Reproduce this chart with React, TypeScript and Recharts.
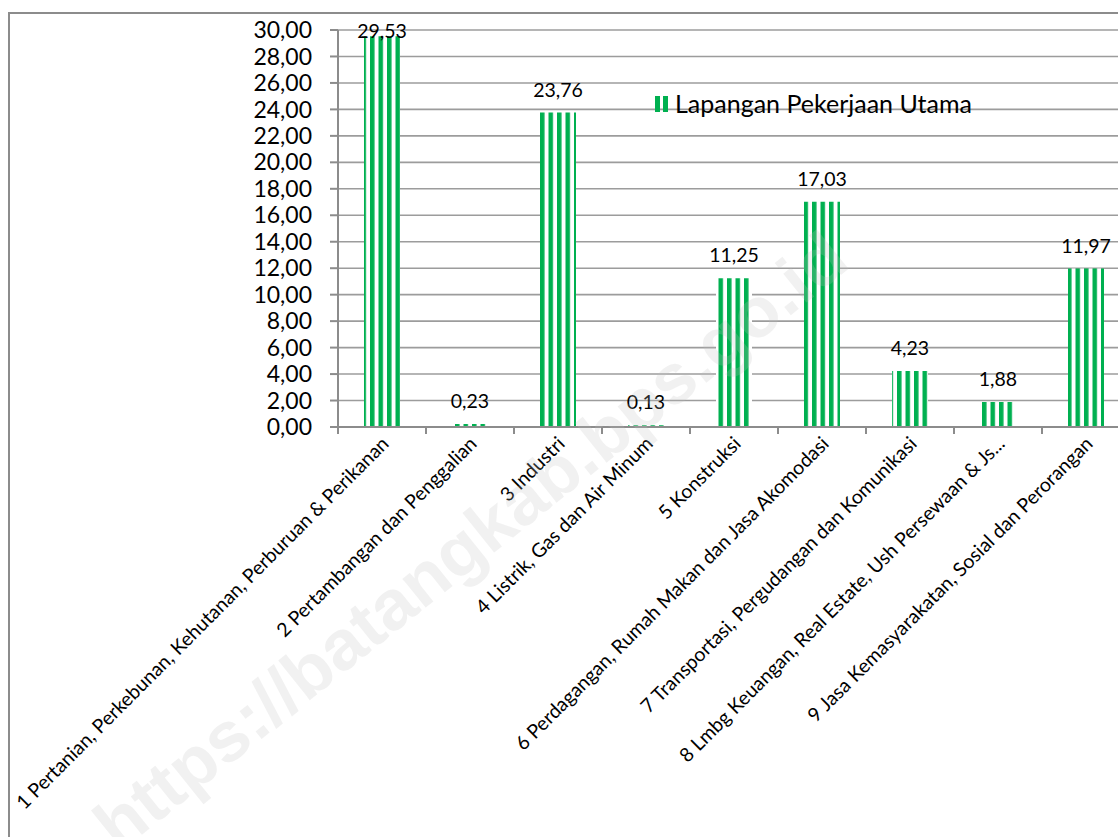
import React from 'react';
import { BarChart, Bar, XAxis, YAxis, CartesianGrid, LabelList } from 'recharts';

const categories = [
  '1 Pertanian, Perkebunan, Kehutanan, Perburuan & Perikanan',
  '2 Pertambangan dan Penggalian',
  '3 Industri',
  '4 Listrik, Gas dan Air Minum',
  '5 Konstruksi',
  '6 Perdagangan, Rumah Makan dan Jasa Akomodasi',
  '7 Transportasi, Pergudangan dan Komunikasi',
  '8 Lmbg Keuangan, Real Estate, Ush Persewaan & Js...',
  '9 Jasa Kemasyarakatan, Sosial dan Perorangan',
];
const values = [29.53, 0.23, 23.76, 0.13, 11.25, 17.03, 4.23, 1.88, 11.97];
const yTicks = [0, 2, 4, 6, 8, 10, 12, 14, 16, 18, 20, 22, 24, 26, 28, 30];
const seriesName = 'Lapangan Pekerjaan Utama';
const watermark = 'https://batangkab.bps.go.id';

const data = categories.map((c, i) => ({ name: c, value: values[i] }));

const CHART_W = 1150;
const CHART_H = 840;
const MARGIN = { top: 30, right: 20, bottom: 13, left: 0 };
const Y_W = 338;
const X_H = 400;
const PLOT_TOP = MARGIN.top;
const AXIS_Y = CHART_H - MARGIN.bottom - X_H;
const BAND = (CHART_W - MARGIN.left - MARGIN.right - Y_W) / categories.length;
const GREEN = '#00B050';
const FONT = 'Lato, "Open Sans", sans-serif';

const fmt = (v: number) => v.toFixed(2).replace('.', ',');

const CatTick = (props: any) => {
  const { x, y, payload, index } = props;
  const last = index === categories.length - 1;
  return (
    <g>
      <line x1={x - BAND / 2} y1={AXIS_Y} x2={x - BAND / 2} y2={AXIS_Y + 7} stroke="#8c8c8c" strokeWidth={2} />
      {last && <line x1={x + BAND / 2} y1={AXIS_Y} x2={x + BAND / 2} y2={AXIS_Y + 7} stroke="#8c8c8c" strokeWidth={2} />}
      <text
        transform={`translate(${x + 8},${y + 18}) rotate(-45)`}
        textAnchor="end"
        fontFamily={FONT}
        fontSize={19.5}
        fill="#000"
      >
        {payload.value}
      </text>
    </g>
  );
};

const ValueLabel = (props: any) => {
  const { x, y, width, value } = props;
  const by = Math.max(y - 16, PLOT_TOP + 8);
  return (
    <text x={x + width / 2} y={by} textAnchor="middle" fontFamily={FONT} fontSize={19.5} fill="#000">
      {fmt(value)}
    </text>
  );
};

export default function App() {
  return (
    <div style={{ position: 'fixed', left: 0, top: 0, width: 1118, height: 837, overflow: 'hidden', background: '#fff' }}>
      <svg width={0} height={0} style={{ position: 'absolute' }}>
        <defs>
          <pattern id="stripes" patternUnits="userSpaceOnUse" x={4.5} y={0} width={8.5} height={10}>
            <rect x={0} y={0} width={8.5} height={10} fill="#fff" />
            <rect x={0} y={0} width={4.5} height={10} fill={GREEN} />
          </pattern>
        </defs>
      </svg>
      <div
        style={{
          position: 'absolute',
          left: 8,
          top: 12,
          width: 1200,
          height: 900,
          border: '2px solid #8c8c8c',
          boxSizing: 'border-box',
        }}
      />
      <div style={{ position: 'absolute', left: 0, top: 0 }}>
        <BarChart width={CHART_W} height={CHART_H} data={data} margin={MARGIN}>
          <CartesianGrid vertical={false} stroke="#9c9c9c" strokeWidth={1.6} />
          <XAxis
            dataKey="name"
            interval={0}
            height={X_H}
            tickSize={0}
            tickMargin={0}
            tickLine={false}
            axisLine={{ stroke: '#8c8c8c', strokeWidth: 2 }}
            tick={<CatTick />}
          />
          <YAxis
            width={Y_W}
            domain={[0, 30]}
            ticks={yTicks}
            interval={0}
            tickFormatter={fmt}
            tickSize={8}
            tickMargin={18}
            tickLine={{ stroke: '#8c8c8c', strokeWidth: 2 }}
            axisLine={{ stroke: '#8c8c8c', strokeWidth: 2 }}
            tick={{ fill: '#000', fontFamily: FONT, fontSize: 23 }}
          />
          <Bar
            dataKey="value"
            name={seriesName}
            fill="url(#stripes)"
            barSize={36}
            isAnimationActive={false}
          >
            <LabelList dataKey="value" content={<ValueLabel />} />
          </Bar>
        </BarChart>
      </div>
      <div
        style={{
          position: 'absolute',
          left: 654,
          top: 88,
          display: 'flex',
          alignItems: 'center',
          fontFamily: FONT,
          fontSize: 25,
          color: '#000',
          whiteSpace: 'nowrap',
        }}
      >
        <svg width={17} height={17} style={{ marginRight: 4 }}>
          <rect x={1} y={1} width={5} height={16} fill={GREEN} />
          <rect x={9} y={1} width={5} height={16} fill={GREEN} />
        </svg>
        <span>{seriesName}</span>
      </div>
      <svg width={1118} height={837} style={{ position: 'absolute', left: 0, top: 0, pointerEvents: 'none' }}>
        <text
          x={470}
          y={565}
          transform="rotate(-38.7 470 540)"
          textAnchor="middle"
          fontFamily='"Liberation Sans", Arial, sans-serif'
          fontWeight="bold"
          fontSize={70}
          textLength={940}
          lengthAdjust="spacingAndGlyphs"
          fill="#bdbdbd"
          fillOpacity={0.22}
        >
          {watermark}
        </text>
      </svg>
    </div>
  );
}
